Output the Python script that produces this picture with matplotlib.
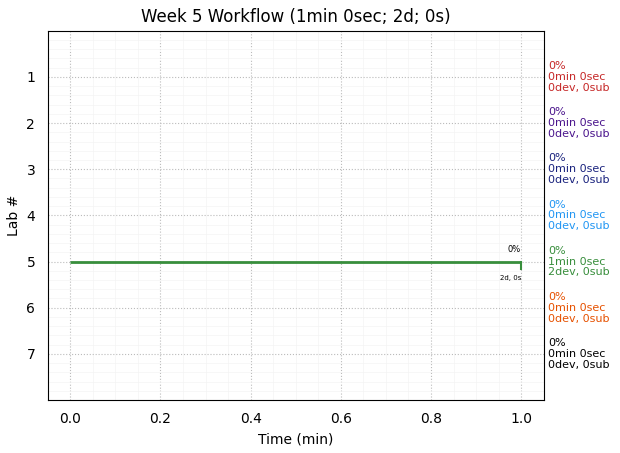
import numpy as np
import matplotlib.pyplot as plt
from matplotlib.ticker import MultipleLocator

# per-lab summary shown on the right
labs = [1, 2, 3, 4, 5, 6, 7]
pct = ['0%', '0%', '0%', '0%', '0%', '0%', '0%']
mins = [0, 0, 0, 0, 1, 0, 0]
secs = [0, 0, 0, 0, 0, 0, 0]
devs = [0, 0, 0, 0, 2, 0, 0]
subs = [0, 0, 0, 0, 0, 0, 0]
colors = ['#c62828', '#4a148c', '#1a237e', '#2196f3', '#388e3c', '#e65100', '#000000']

# work segments: lab, start, end (min)
seg_lab = [5]
seg_start = [0.0]
seg_end = [1.0]
seg_pct = ['0%']
seg_info = ['2d, 0s']

fig = plt.figure(figsize=(6.2, 4.53), dpi=100)
ax = fig.add_axes([0.077, 0.117, 0.8, 0.815])

for lab, s, e, p, info in zip(seg_lab, seg_start, seg_end, seg_pct, seg_info):
    c = colors[lab - 1]
    ax.plot([s, e], [lab, lab], color=c, lw=2, solid_capstyle='butt', zorder=3)
    ax.plot([e, e], [lab, lab + 0.17], color=c, lw=1.5, zorder=3)
    ax.text(e, lab - 0.17, p, fontsize=6, ha='right', va='bottom')
    ax.text(e, lab + 0.3, info, fontsize=5, ha='right', va='top')

ax.set_xlim(-0.05, 1.05)
ax.set_ylim(8, 0)
ax.set_yticks(labs)
ax.xaxis.set_minor_locator(MultipleLocator(0.05))
ax.yaxis.set_minor_locator(MultipleLocator(0.2))
ax.tick_params(which='both', length=0, pad=9)
ax.grid(True, which='major', ls=':', color='#bbbbbb', lw=0.8)
ax.grid(True, which='minor', ls='-', color='#f4f4f4', lw=0.5)
ax.set_axisbelow(True)

for lab, p, m, s, d, sb, c in zip(labs, pct, mins, secs, devs, subs, colors):
    txt = '{}\n{}min {}sec\n{}dev, {}sub'.format(p, m, s, d, sb)
    ax.text(1.06, lab, txt, fontsize=8, color=c, ha='left', va='center',
            linespacing=1.1, transform=ax.transData, clip_on=False)

ax.set_xlabel('Time (min)')
ax.set_ylabel('Lab #')
ax.set_title('Week 5 Workflow (1min 0sec; 2d; 0s)')

fig.savefig('out.png', dpi=100)
